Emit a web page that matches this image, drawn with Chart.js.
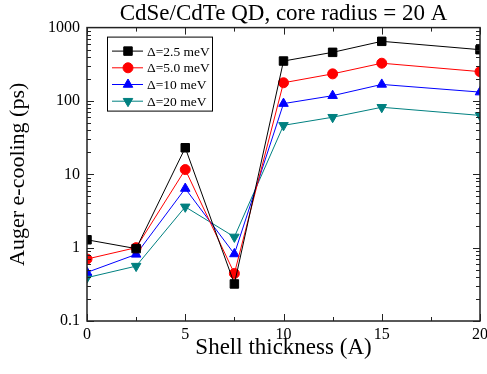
<title>Auger e-cooling vs shell thickness</title>
<script src=https://cdn.jsdelivr.net/npm/chart.js@4.4.1/dist/chart.umd.min.js></script>
<style>body{margin:0;background:#fff}</style>
<canvas id="myChart" width="487" height="374"></canvas>
<script>
// values
var thickness=[0,2.5,5,7.5,10,12.5,15,20];
var d25=[1.28,0.97,23,0.32,350,460,650,500];
var d50=[0.70,1.0,11.6,0.445,177,234,327,251];
var d10=[0.46,0.81,6.4,0.82,92,118,168,132];
var d20=[0.39,0.56,3.6,1.40,46.5,60,82,63.5];
var names=['\u0394=2.5 meV','\u0394=5.0 meV','\u0394=10 meV','\u0394=20 meV'];
var colors=['#000000','#ff0000','#0000ff','#008080'];
var yLabels=[0.1,1,10,100,1000];
var xLabels=[0,5,10,15,20];

Chart.defaults.font.family='Liberation Serif';
Chart.defaults.color='#000';

function pts(v){return v.map(function(y,i){return {x:thickness[i],y:y};});}
function ds(i,v,style,r,rot){
  return {label:names[i],data:pts(v),borderColor:colors[i],backgroundColor:colors[i],
    pointBackgroundColor:colors[i],pointBorderColor:colors[i],borderWidth:1,pointBorderWidth:1,
    pointStyle:style,pointRadius:r,pointRotation:rot||0,tension:0};
}

var frame={id:'frame',afterDatasetsDraw:function(c){
  var a=c.chartArea,ctx=c.ctx,xs=c.scales.x,ys=c.scales.y,L;
  ctx.save();
  ctx.strokeStyle='#222';ctx.lineWidth=1.5;
  ctx.strokeRect(a.left,a.top,a.right-a.left,a.bottom-a.top);
  ctx.lineWidth=1;
  ctx.beginPath();
  for(var e=-1;e<3;e++)for(var m=1;m<10;m++){
    var py=Math.round(ys.getPixelForValue(m*Math.pow(10,e)))+0.5;L=m==1?7:4;
    ctx.moveTo(a.left,py);ctx.lineTo(a.left+L,py);
    ctx.moveTo(a.right,py);ctx.lineTo(a.right-L,py);
  }
  for(var t=0;t<=20;t+=2.5){
    var px=Math.round(xs.getPixelForValue(t))+0.5;L=xLabels.indexOf(t)>=0?7:4;
    ctx.moveTo(px,a.bottom);ctx.lineTo(px,a.bottom-L);
    ctx.moveTo(px,a.top);ctx.lineTo(px,a.top+L);
  }
  ctx.stroke();
  // legend box
  var bx=a.left+20,by=a.top+9;
  ctx.strokeStyle='#000';
  ctx.strokeRect(bx+0.5,by+0.5,105,74);
  ctx.font='13.5px "Liberation Serif"';ctx.textBaseline='middle';
  c.data.datasets.forEach(function(d,i){
    var y=by+14.5+16.7*i;
    ctx.strokeStyle=d.borderColor;ctx.fillStyle=d.pointBackgroundColor;ctx.lineWidth=1;
    ctx.beginPath();ctx.moveTo(bx+5,y);ctx.lineTo(bx+36,y);ctx.stroke();
    Chart.helpers.drawPoint(ctx,{pointStyle:d.pointStyle,radius:d.pointRadius,rotation:d.pointRotation,borderWidth:1},bx+21,y);
    ctx.fillStyle='#000';
    ctx.fillText(d.label,bx+40,y+1);
  });
  ctx.restore();
}};

new Chart(document.getElementById('myChart'),{
  type:'line',
  data:{datasets:[ds(0,d25,'rect',6),ds(1,d50,'circle',5),ds(2,d10,'triangle',5.5),ds(3,d20,'triangle',5.5,180)]},
  options:{
    responsive:false,animation:false,
    layout:{padding:{left:0,right:5,top:0,bottom:0}},
    plugins:{legend:{display:false},tooltip:{enabled:false},
      title:{display:true,fullSize:false,text:'CdSe/CdTe QD, core radius = 20 A',font:{size:23,weight:'normal'},color:'#000',padding:{top:0,bottom:0}}},
    scales:{
      x:{type:'linear',min:0,max:20,grid:{display:false,drawTicks:false},border:{display:false},
        ticks:{stepSize:5,autoSkip:false,maxRotation:0,padding:4,font:{size:16},
          callback:function(v){return xLabels.indexOf(v)>=0?String(v):'';}},
        title:{display:true,text:'Shell thickness (A)',font:{size:23},padding:{top:0,bottom:12}},
        afterFit:function(s){s.height=53;s.paddingLeft=0;s.paddingRight=0;}},
      y:{type:'logarithmic',min:0.1,max:1000,grid:{display:false,drawTicks:false},border:{display:false},
        ticks:{autoSkip:false,padding:7,font:{size:16},
          callback:function(v){return yLabels.indexOf(v)>=0?String(v):'';}},
        title:{display:true,text:'Auger e-cooling (ps)',font:{size:22},padding:{top:5,bottom:0}},
        afterFit:function(s){s.width=87;s.paddingTop=0;s.paddingBottom=0;}}
    }
  },
  plugins:[frame]
});
</script>
